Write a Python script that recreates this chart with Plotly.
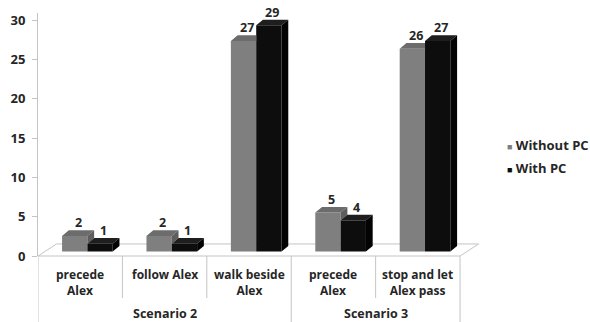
import plotly.graph_objects as go

# ---- data -------------------------------------------------------------
categories = ["precede<br>Alex", "follow Alex", "walk beside<br>Alex",
              "precede<br>Alex", "stop and let<br>Alex pass"]
groups = ["Scenario 2", "Scenario 3"]
group_members = [[0, 1, 2], [3, 4]]
series_names = ["Without PC", "With PC"]
without_pc = [2, 2, 27, 5, 26]
with_pc = [1, 1, 29, 4, 27]
y_ticks = [0, 5, 10, 15, 20, 25, 30]

# ---- styling ----------------------------------------------------------
FONT = "Open Sans"
TXT = "#262626"
GRID = "#c4c4c4"
front = ["#7f7f7f", "#0d0d0d"]
top = ["#6c6c6c", "#1e1e1e"]
side = ["#5e5e5e", "#030303"]

W, H = 590, 322
ML, MR, MT, MB = 38, 108, 13, 66
X_RANGE = [-0.5, 4.76]
Y_RANGE = [0, 30.89]
Y2_RANGE = [-0.577, 30.58]     # bars sit a little back from the front edge

BAR_W = 0.30
offsets = [-0.215, 0.085]
DX, DY = 0.08, 0.72            # depth of each bar (x units, y2 units)
FLOOR_DX, FLOOR_DY = 0.22, 1.53

plot_w = W - ML - MR
plot_h = H - MT - MB


def xp(px):
    return (px - ML) / plot_w


def yp(py):
    return (H - MB - py) / plot_h


idx = list(range(len(categories)))
series = [without_pc, with_pc]

fig = go.Figure()

# front faces
for s, vals in enumerate(series):
    fig.add_trace(go.Bar(
        x=idx, y=vals, width=BAR_W, offset=offsets[s],
        marker=dict(color=front[s], line=dict(width=0)),
        name=series_names[s], yaxis="y2", showlegend=False, hoverinfo="skip"))

# top and side faces (only the parts that are not hidden by the neighbour)
for s, vals in enumerate(series):
    tx, ty, sx, sy = [], [], [], []
    for i, v in enumerate(vals):
        xl = i + offsets[s]
        xr = xl + BAR_W
        other = with_pc[i] if s == 0 else None
        if s == 0 and other >= v + DY:
            tx += [xl, xr, xr, xl + DX, xl, None]
            ty += [v, v, v + DY, v + DY, v, None]
        else:
            tx += [xl, xr, xr + DX, xl + DX, xl, None]
            ty += [v, v, v + DY, v + DY, v, None]
        if s == 0:
            if v > other:
                sx += [xr, xr, xr + DX, xr + DX, xr, None]
                sy += [other, v, v + DY, other + DY, other, None]
        else:
            sx += [xr, xr, xr + DX, xr + DX, xr, None]
            sy += [0, v, v + DY, DY, 0, None]
    fig.add_trace(go.Scatter(x=tx, y=ty, mode="lines", fill="toself",
                             fillcolor=top[s], line=dict(width=0),
                             yaxis="y2", showlegend=False, hoverinfo="skip"))
    if sx:
        fig.add_trace(go.Scatter(x=sx, y=sy, mode="lines", fill="toself",
                                 fillcolor=side[s], line=dict(width=0),
                                 yaxis="y2", showlegend=False, hoverinfo="skip"))

annotations = []
# value labels
for s, vals in enumerate(series):
    for i, v in enumerate(vals):
        annotations.append(dict(
            x=i + offsets[s] + BAR_W / 2 + DX * 0.5, y=v + DY, xref="x", yref="y2",
            text=f"<b>{v}</b>", showarrow=False, yanchor="bottom", yshift=-3,
            font=dict(family=FONT, size=12.5, color=TXT)))

# category labels
for i, c in enumerate(categories):
    annotations.append(dict(
        x=i, y=yp(264), xref="x", yref="paper", text=f"<b>{c}</b>",
        showarrow=False, yanchor="top",
        font=dict(family=FONT, size=12, color=TXT)))

# group labels
for g, members in zip(groups, group_members):
    annotations.append(dict(
        x=(members[0] + members[-1]) / 2, y=yp(313), xref="x", yref="paper",
        text=f"<b>{g}</b>", showarrow=False, yanchor="middle",
        font=dict(family=FONT, size=12.5, color=TXT)))

# legend
for s, name in enumerate(series_names):
    annotations.append(dict(
        x=xp(505), y=yp(145 + 23 * s), xref="paper", yref="paper",
        xanchor="left", yanchor="middle", showarrow=False,
        text=(f"<span style='color:{front[s]};font-size:9px'>■</span>"
              f" <b>{name}</b>"),
        font=dict(family=FONT, size=13, color=TXT)))

shapes = []
# floor outline
shapes.append(dict(
    type="path", xref="x", yref="y", layer="below",
    path=(f"M {X_RANGE[0]},0 L {X_RANGE[0] + FLOOR_DX},{FLOOR_DY} "
          f"L {4.5 + FLOOR_DX},{FLOOR_DY} L 4.5,0"),
    line=dict(color=GRID, width=1)))
shapes.append(dict(type="line", xref="x", yref="paper", x0=-0.5, x1=4.5,
                   y0=0, y1=0, line=dict(color=GRID, width=1)))
# category dividers below the axis
bounds = [-0.5, 0.5, 1.5, 2.5, 3.5, 4.5]
group_edges = {-0.5, 2.5, 4.5}
for b in bounds:
    shapes.append(dict(type="line", xref="x", yref="paper", x0=b, x1=b,
                       y0=0, y1=yp(322) if b in group_edges else yp(298),
                       line=dict(color=GRID, width=1)))

fig.update_layout(
    width=W, height=H, margin=dict(l=ML, r=MR, t=MT, b=MB),
    paper_bgcolor="white", plot_bgcolor="white", barmode="overlay",
    showlegend=False,
    xaxis=dict(range=X_RANGE, visible=False, fixedrange=True),
    yaxis=dict(range=Y_RANGE, tickvals=y_ticks, showgrid=False, zeroline=False,
               showline=True, linecolor=GRID, linewidth=1,
               ticks="outside", ticklen=5, tickcolor=GRID,
               ticklabelstandoff=4,
               tickfont=dict(family=FONT, size=13, color=TXT, weight="bold")),
    yaxis2=dict(range=Y2_RANGE, overlaying="y", visible=False),
    annotations=annotations, shapes=shapes,
)

fig.write_html("out.html")
